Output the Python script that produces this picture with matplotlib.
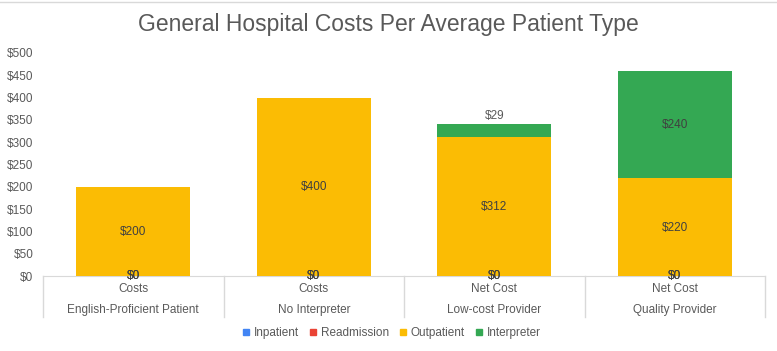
import matplotlib
matplotlib.use("Agg")
import matplotlib.pyplot as plt
from matplotlib.lines import Line2D
import matplotlib.transforms as mtrans

plt.rcParams['font.family'] = ['Liberation Sans', 'DejaVu Sans']

groups = ["English-Proficient Patient", "No Interpreter", "Low-cost Provider", "Quality Provider"]
subcats = ["Costs", "Costs", "Net Cost", "Net Cost"]
series_names = ["Inpatient", "Readmission", "Outpatient", "Interpreter"]
inpatient = [0, 0, 0, 0]
readmission = [0, 0, 0, 0]
outpatient = [200, 400, 312, 220]
interpreter = [0, 0, 29, 240]
yticks = [0, 50, 100, 150, 200, 250, 300, 350, 400, 450, 500]
colors = ["#4285F4", "#EA4335", "#FBBC04", "#34A853"]

W, H = 777, 351
fig = plt.figure(figsize=(W / 100, H / 100), dpi=100)
ax_l, ax_r, ax_t, ax_b = 43, 765, 53, 276
ax = fig.add_axes([ax_l / W, 1 - ax_b / H, (ax_r - ax_l) / W, (ax_b - ax_t) / H])

x = list(range(len(groups)))
bw = 0.63
series = [inpatient, readmission, outpatient, interpreter]
bottom = [0] * len(x)
for vals, col in zip(series, colors):
    ax.bar(x, vals, bw, bottom=bottom, color=col, zorder=2)
    bottom = [b + v for b, v in zip(bottom, vals)]

# data labels
lab_col = "#404040"
fs = 8.5
off = -1.5  # slight downward offset in data units
for i in x:
    for vals in (inpatient, readmission):
        ax.text(i, vals[i] / 2, f"${vals[i]}", ha="center", va="center", fontsize=fs, color=lab_col, zorder=3)
    ax.text(i, outpatient[i] / 2 + off, f"${outpatient[i]}", ha="center", va="center", fontsize=fs,
            color=lab_col, zorder=3)
    if interpreter[i] > 0:
        if interpreter[i] < 60:
            ax.text(i, outpatient[i] + interpreter[i] + 4, f"${interpreter[i]}", ha="center", va="bottom",
                    fontsize=fs, color="#595959", zorder=3)
        else:
            ax.text(i, outpatient[i] + interpreter[i] / 2 + off, f"${interpreter[i]}", ha="center", va="center",
                    fontsize=fs, color=lab_col, zorder=3)

ax.set_xlim(-0.5, len(x) - 0.5)
ax.set_ylim(0, 500)
ax.set_yticks(yticks)
ax.set_yticklabels([f"${v}" for v in yticks], fontsize=fs, color="#595959")
ax.tick_params(axis="y", length=0, pad=7)
ax.set_xticks([])
for s in ["top", "right", "left"]:
    ax.spines[s].set_visible(False)
ax.spines["bottom"].set_color("#D9D9D9")
ax.spines["bottom"].set_zorder(1)

axh = ax_b - ax_t
trans = mtrans.blended_transform_factory(ax.transData, ax.transAxes)
sep_bottom = -(317 - ax_b) / axh
for b in [i - 0.5 for i in range(len(x) + 1)]:
    ax.add_line(Line2D([b, b], [0, sep_bottom], transform=trans, color="#D9D9D9", lw=1, clip_on=False))
for i in x:
    ax.text(i, -(289 - ax_b) / axh, subcats[i], transform=trans, ha="center", va="center",
            fontsize=fs, color="#595959")
    ax.text(i, -(310 - ax_b) / axh, groups[i], transform=trans, ha="center", va="center",
            fontsize=fs, color="#595959")

fig.text(388 / W, 1 - 24 / H, "General Hospital Costs Per Average Patient Type", ha="center", va="center",
         fontsize=16.5, color="#595959")

handles = [Line2D([], [], marker="s", linestyle="none", markersize=5, markerfacecolor=c, markeredgecolor=c)
           for c in colors]
fig.legend(handles, series_names, loc="center", bbox_to_anchor=(391 / W, 1 - 333 / H), ncol=4, frameon=False,
           fontsize=8.5, handletextpad=0.3, columnspacing=0.75, labelcolor="#595959", handlelength=0.8)

fig.add_artist(Line2D([0, 1], [1 - 1.5 / H, 1 - 1.5 / H], transform=fig.transFigure, color="#D9D9D9", lw=1))

fig.savefig("out.png", dpi=100)
